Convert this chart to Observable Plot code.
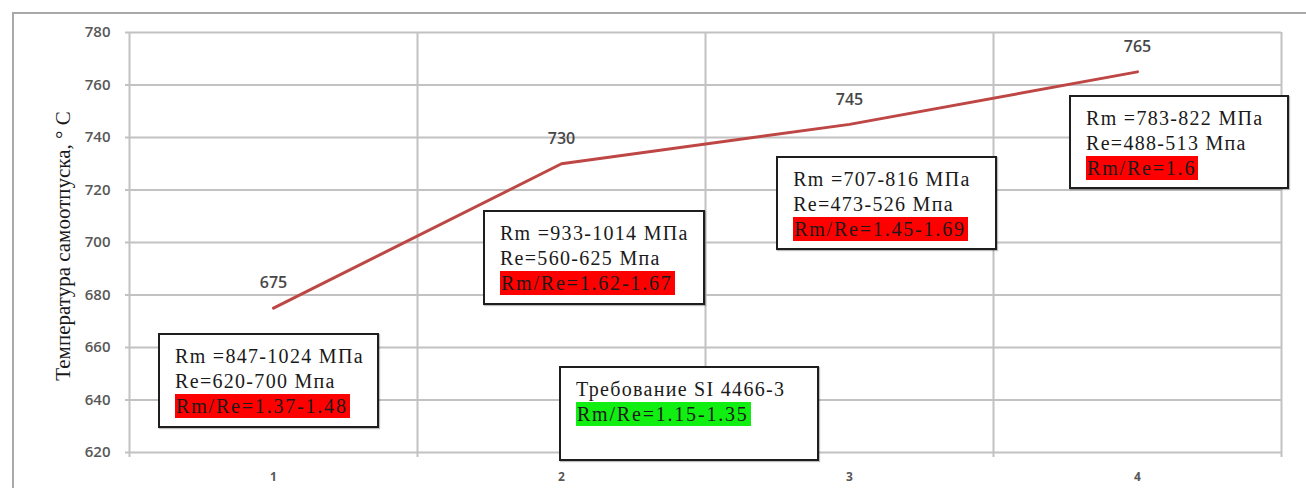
<!DOCTYPE html>
<html>
<head>
<meta charset="utf-8">
<script src="https://cdn.jsdelivr.net/npm/d3@7"></script>
<script src="https://cdn.jsdelivr.net/npm/@observablehq/plot@0.6"></script>
<style>
  html, body { margin: 0; padding: 0; background: #fff; }
  #wrap { position: relative; width: 1306px; height: 488px; overflow: hidden; }
  #frame { position: absolute; left: 12px; top: 12px; width: 1310px; height: 500px;
           border-left: 2px solid #a9a9a9; border-top: 2px solid #a9a9a9; box-sizing: border-box; }
  #wrap svg { position: absolute; left: 0; top: 0; }
  .ytitle { position: absolute; white-space: nowrap; font-family: "Liberation Serif", serif; font-size: 21px; color: #1a1a1a;
            transform: translate(-50%, -50%) rotate(-90deg); }
  .box { position: absolute; box-sizing: border-box; border: 2px solid #1e1e1e; background: #fff;
         padding: 9px 0 0 15px; font-family: "Liberation Serif", serif; font-size: 20px; line-height: 25px;
         color: #1a1a1a; letter-spacing: 1.3px; white-space: nowrap; box-shadow: 1px 1px 1px rgba(0,0,0,0.25); }
  .box .hl { display: inline-block; padding: 0 2px 0 1px; line-height: 24px; letter-spacing: 1.8px; }
</style>
</head>
<body>
<div id="wrap"><div id="frame"></div></div>
<script>
// ---- data ----
const categories = [1, 2, 3, 4];
const temperatures = [675, 730, 745, 765];
const yTicks = [620, 640, 660, 680, 700, 720, 740, 760, 780];
const bandEdges = [0.5, 1.5, 2.5, 3.5, 4.5];
const yTitle = "Температура самоотпуска, ° C";

// annotation texts
const boxTexts = [
  ["Rm =847-1024 МПа", "Re=620-700 Мпа", "Rm/Re=1.37-1.48"],
  ["Rm =933-1014 МПа", "Re=560-625 Мпа", "Rm/Re=1.62-1.67"],
  ["Rm =707-816 МПа", "Re=473-526 Мпа", "Rm/Re=1.45-1.69"],
  ["Rm =783-822 МПа", "Re=488-513 Мпа", "Rm/Re=1.6"],
  ["Требование SI 4466-3", "Rm/Re=1.15-1.35"]
];
const boxHighlight = ["#ff0000", "#ff0000", "#ff0000", "#ff0000", "#11ee11"];
// box layout in data coordinates: [x1, y1(top), x2, y2(bottom)]
const boxLayout = [
  [0.601, 665.3, 1.368, 629.1],
  [1.729, 712.2, 2.500, 676.0],
  [2.747, 732.8, 3.514, 697.0],
  [3.764, 756.0, 4.528, 720.2],
  [1.993, 652.8, 2.896, 616.6]
];

const points = categories.map((c, i) => ({x: c, y: temperatures[i]}));

const chart = Plot.plot({
  width: 1306,
  height: 488,
  marginLeft: 129,
  marginRight: 25,
  marginTop: 32,
  marginBottom: 36,
  style: {background: "transparent", fontFamily: "Open Sans, sans-serif", overflow: "visible"},
  x: {domain: [0.5, 4.5], axis: null},
  y: {domain: [620, 780], axis: null},
  marks: [
    Plot.ruleY(yTicks, {y: d => d, x1: 0.5 - 4 / 288, x2: 4.5, stroke: "#c2c2c2", strokeWidth: 2}),
    Plot.ruleX(bandEdges, {x: d => d, y1: 620 - 5 / 2.625, y2: 780, stroke: "#c2c2c2", strokeWidth: 2}),
    // y tick labels
    Plot.text(yTicks, {x: 0.5, y: d => d, text: d => String(d), dx: -19, textAnchor: "end",
                       fill: "#585858", fontSize: 15, fontWeight: 600, fontFamily: "Open Sans, sans-serif"}),
    // x tick labels
    Plot.text(categories, {x: d => d, y: 620, text: d => String(d), dy: 25,
                           fill: "#585858", fontSize: 12, fontWeight: 700, fontFamily: "Open Sans, sans-serif"}),
    Plot.line(points, {x: "x", y: "y", stroke: "#be4644", strokeWidth: 3}),
    Plot.text(points, {x: "x", y: "y", text: d => String(d.y), dy: -25, fill: "#474747",
                       fontSize: 16, fontWeight: 600, fontFamily: "Open Sans, sans-serif"})
  ]
});

const wrap = document.getElementById("wrap");
wrap.appendChild(chart);

const xs = chart.scale("x");
const ys = chart.scale("y");

// y-axis title
const t = document.createElement("div");
t.className = "ytitle";
t.textContent = yTitle;
t.style.left = "63px";
t.style.top = ys.apply(698.5) + "px";
wrap.appendChild(t);

// annotation boxes
boxTexts.forEach((lines, i) => {
  const [x1, y1, x2, y2] = boxLayout[i];
  const b = document.createElement("div");
  b.className = "box";
  const left = xs.apply(x1), right = xs.apply(x2);
  const top = ys.apply(y1), bottom = ys.apply(y2);
  b.style.left = left + "px";
  b.style.top = top + "px";
  b.style.width = (right - left) + "px";
  b.style.height = (bottom - top) + "px";
  lines.forEach((line, j) => {
    const d = document.createElement("div");
    if (j === lines.length - 1) {
      const s = document.createElement("span");
      s.className = "hl";
      s.style.background = boxHighlight[i];
      s.textContent = line;
      d.appendChild(s);
    } else {
      d.textContent = line;
    }
    b.appendChild(d);
  });
  wrap.appendChild(b);
});
</script>
</body>
</html>
